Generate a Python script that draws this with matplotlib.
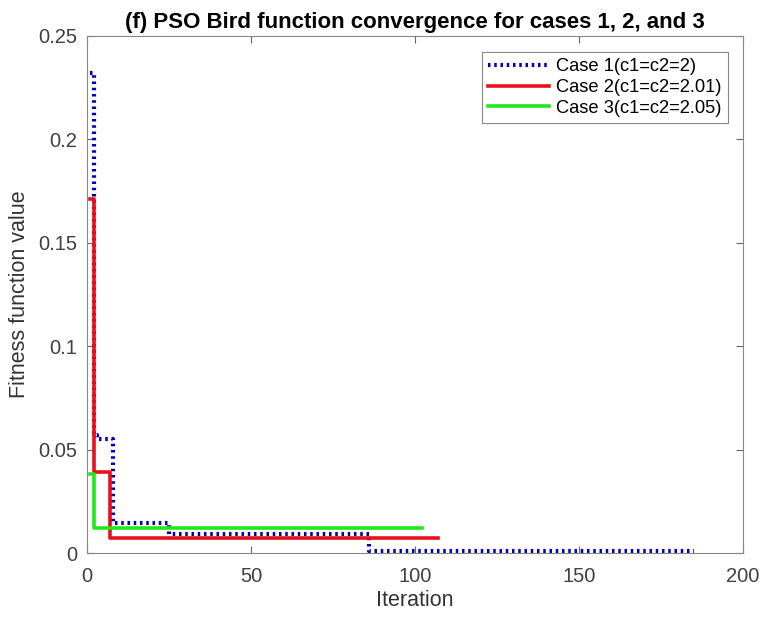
import matplotlib
matplotlib.use("Agg")
import matplotlib.pyplot as plt

# values (iteration where the best value changes, value)
case1_iter = [1, 2, 3, 7, 8, 25, 86, 185]
case1_val = [0.232, 0.057, 0.055, 0.055, 0.0145, 0.0093, 0.001, 0.001]
case2_iter = [1, 2, 6, 7, 107]
case2_val = [0.171, 0.039, 0.039, 0.0071, 0.0071]
case3_iter = [1, 2, 102]
case3_val = [0.038, 0.012, 0.012]

labels = ["Case 1(c1=c2=2)", "Case 2(c1=c2=2.01)", "Case 3(c1=c2=2.05)"]
yticks = [0, 0.05, 0.1, 0.15, 0.2, 0.25]
yticklabels = ["0", "0.05", "0.1", "0.15", "0.2", "0.25"]
xticks = [0, 50, 100, 150, 200]

plt.rcParams['font.family'] = ['Liberation Sans', 'DejaVu Sans']

fig = plt.figure(figsize=(7.63, 6.2), dpi=100)
ax = fig.add_axes([0.114, 0.108, 0.86, 0.834])

ax.plot(case1_iter, case1_val, drawstyle='steps-post', color='#0000b4',
        linestyle=(0, (0.6, 0.9)), linewidth=3, label=labels[0])
ax.plot(case2_iter, case2_val, drawstyle='steps-post', color='#e8101a',
        linewidth=2.6, label=labels[1])
ax.plot(case3_iter, case3_val, drawstyle='steps-post', color='#1fe81f',
        linewidth=2.6, label=labels[2])

ax.set_xlim(0, 200)
ax.set_ylim(0, 0.25)
ax.set_xticks(xticks)
ax.set_yticks(yticks)
ax.set_yticklabels(yticklabels)
ax.tick_params(direction='in', top=True, right=True, labelsize=14.5,
               colors='#666666', labelcolor='#404040', length=5)
ax.tick_params(axis='x', pad=10)
ax.tick_params(axis='y', pad=7)
for s in ax.spines.values():
    s.set_color('#888888')

ax.set_xlabel("Iteration", fontsize=15.5, color='#333333', labelpad=3)
ax.set_ylabel("Fitness function value", fontsize=15.5, color='#333333', labelpad=6)
ax.set_title("(f) PSO Bird function convergence for cases 1, 2, and 3",
             fontsize=16, fontweight='bold', pad=6)

leg = ax.legend(loc='upper right', bbox_to_anchor=(0.977, 0.969), borderaxespad=0,
                fontsize=13.2, fancybox=False, framealpha=1, edgecolor='#888888',
                handlelength=3.3, borderpad=0.35, labelspacing=0.2, handletextpad=0.4)
leg.get_frame().set_linewidth(0.8)

fig.savefig("out.png", dpi=100)
